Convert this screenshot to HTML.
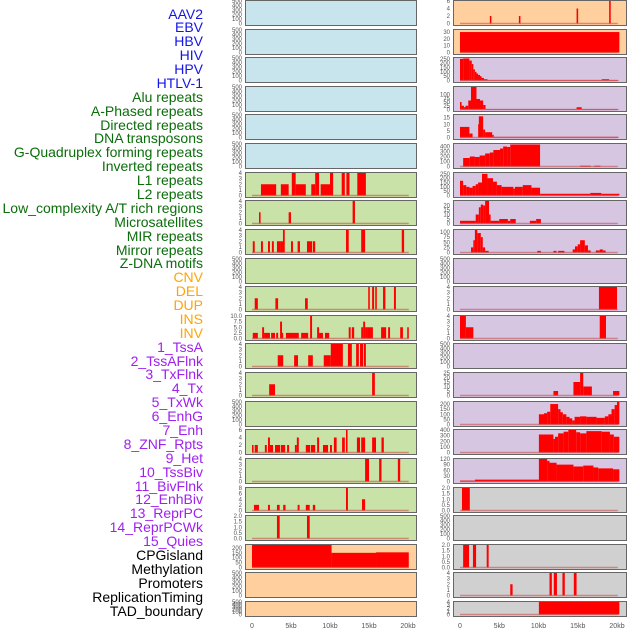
<!DOCTYPE html>
<html><head><meta charset="utf-8">
<style>
html,body{margin:0;padding:0;background:#fff;width:630px;height:630px;overflow:hidden}
#wrap{position:relative;width:630px;height:630px}
.lab{position:absolute;right:427px;font:14px "Liberation Sans",sans-serif;white-space:nowrap;line-height:15px}
svg{position:absolute;left:0;top:0}
</style></head><body>
<div id="wrap">
<div id="labels"></div>
<svg id="chart" width="630" height="630"></svg>
</div>
<script>
// ---- track labels ----
const labelNames = ["AAV2","EBV","HBV","HIV","HPV","HTLV-1","Alu repeats","A-Phased repeats","Directed repeats","DNA transposons","G-Quadruplex forming repeats","Inverted repeats","L1 repeats","L2 repeats","Low_complexity A/T rich regions","Microsatellites","MIR repeats","Mirror repeats","Z-DNA motifs","CNV","DEL","DUP","INS","INV","1_TssA","2_TssAFlnk","3_TxFlnk","4_Tx","5_TxWk","6_EnhG","7_Enh","8_ZNF_Rpts","9_Het","10_TssBiv","11_BivFlnk","12_EnhBiv","13_ReprPC","14_ReprPCWk","15_Quies","CPGisland","Methylation","Promoters","ReplicationTiming","TAD_boundary"];
const labelGroups = [6,13,5,15,5];
const groupColors = ["#1515e8","#0a6e0a","#ffa500","#a020f0","#000000"];

// ---- left column data: [startKb, endKb, value] ----
const segL6 = [[1.15,3.1,2],[3.7,4.7,2],[5.1,5.6,4],[5.6,6.9,2],[7.6,8.1,2],[8.1,8.6,4],[8.8,10,2],[10,10.4,4],[11.5,11.9,4],[12.1,12.5,4],[13.5,14.6,4]];
const segL7 = [[0.9,1.1,2],[4.7,5.0,2],[12.9,13.2,4]];
const segL8 = [[0.1,0.35,2],[1.15,1.4,2],[2.05,2.3,2],[2.55,2.8,2],[3.2,3.6,2],[3.6,3.97,2],[3.97,4.2,4],[5.0,5.25,2],[5.85,6.15,2],[7.05,7.7,2],[7.8,8.1,2],[12.05,12.4,4],[14.0,14.5,4],[19.2,19.5,4]];
const segL10 = [[0.35,0.75,2],[3.0,3.35,2],[6.8,7.15,2],[14.9,15.1,4],[15.4,15.65,4],[15.8,16.0,4],[16.8,17.1,4],[18.2,18.45,4]];
const segL11 = [[0.1,0.75,2.5],[1.3,1.55,5],[1.55,2.3,2.5],[2.45,2.95,2.5],[3.1,3.35,2.5],[3.6,3.85,7.5],[3.85,4.0,2.5],[4.35,6.0,2.5],[6.3,7.2,2.5],[7.45,7.7,10],[8.35,8.6,5],[8.6,9.1,2.5],[9.35,9.9,2.5],[12.4,12.65,5],[12.8,13.1,5],[14.0,14.25,5],[14.25,14.5,7.5],[14.5,14.75,5],[14.75,15.5,5],[16.55,17.2,5],[17.45,17.7,5],[19.0,19.35,5],[19.9,20.1,5]];
const segL12 = [[3.3,4.0,2],[5.4,5.9,2],[7.2,7.8,2],[9.2,10.1,2],[10.1,11.65,4],[12.3,12.8,4],[13.35,13.7,4],[13.85,14.25,4],[14.35,14.6,4]];
const segL13 = [[2.2,2.95,2],[15.4,15.75,4]];
const segL15 = [[0.0,0.2,2],[0.35,0.75,2],[1.65,1.9,2],[2.05,2.3,4],[2.3,2.7,2],[2.95,3.6,2],[3.7,4.25,2],[4.5,4.75,2],[5.5,5.75,2],[5.75,6.0,4],[6.9,7.45,2],[7.55,8.1,2],[8.35,8.6,4],[9.1,9.75,2],[10.0,10.25,2],[10.5,10.85,4],[11.55,11.9,4],[12.05,12.25,6],[13.45,13.85,4],[14.0,14.5,4],[15.4,15.9,4],[16.6,16.9,4]];
const segL16 = [[14.5,15.0,4],[16.3,16.6,4],[18.7,19.0,4]];
const segL17 = [[0.25,0.9,2],[2.05,2.3,2],[3.2,3.55,2],[4.0,4.3,2],[5.85,6.1,2],[6.9,7.4,2],[7.8,8.1,2],[12.05,12.3,8],[14.1,14.5,4]];
const segL18 = [[3.2,3.55,2],[7.05,7.4,2]];
const segL19 = [[0,10.2,230],[10.2,15.9,150],[15.9,20.1,155]];
const leftSegs = [[],[],[],[],[],[],segL6,segL7,segL8,[],segL10,segL11,segL12,segL13,[],segL15,segL16,segL17,segL18,segL19,[],[]];
const leftMax = [500,500,500,500,500,500,4,4,4,500,4,10,4,4,500,6,4,8,2,230,500,500];
const leftTicks = ["e","e","e","e","e","e","4","4","4","e","4","10","4","4","e","6","4","8","2","200","e","e"];

// ---- right column data ----
const segR0 = [[3.8,4.0,2],[7.5,7.7,2],[14.85,15.05,4],[19.0,19.2,6]];
const segR1 = [[0,20.3,30]];
const segR2 = [[0,0.4,250],[0.4,1.2,255],[1.2,1.5,230],[1.5,1.7,190],[1.7,1.9,130],[1.9,2.1,100],[2.1,2.3,80],[2.3,2.55,65],[2.55,2.75,50],[2.75,3.05,30],[3.05,3.5,15],[3.5,18.05,5],[18.05,19.0,15],[19.0,20.2,5]];
const segR3 = [[0,0.2,50],[0.2,0.5,25],[0.5,0.7,15],[0.7,1.05,25],[1.05,1.4,60],[1.4,2.1,150],[2.1,2.55,70],[2.55,2.95,60],[2.95,3.25,30],[3.25,14.85,3],[14.85,15.5,15],[15.5,20.2,3]];
const segR4 = [[0,1.2,8],[1.2,1.6,3],[2.3,2.4,10],[2.4,2.95,16],[2.95,3.2,6],[3.2,4.1,4],[4.1,4.3,2],[4.3,20.2,0.5]];
const segR5 = [[0.4,1.25,170],[1.25,1.9,200],[1.9,2.5,190],[2.5,3.2,220],[3.2,3.8,260],[3.8,4.25,280],[4.25,5.1,330],[5.1,5.5,360],[5.5,6.0,400],[6.0,6.4,390],[6.4,10.2,440],[15.3,16.65,15],[17.1,17.9,15]];
const segR6 = [[0,0.4,170],[0.4,0.8,120],[0.8,1.2,100],[1.2,1.6,90],[1.6,2.0,110],[2.0,2.3,130],[2.3,2.8,150],[2.8,3.5,250],[3.5,4.2,200],[4.2,4.7,160],[4.7,5.3,120],[5.3,6.8,100],[6.8,7.0,80],[7.0,8.0,100],[8.0,9.1,120],[9.1,10.2,90],[10.2,16.6,20],[16.6,18.0,30],[18.0,20.3,20]];
const segR7 = [[0,2.0,3],[2.0,2.4,10],[2.4,2.65,18],[2.65,2.95,21],[2.95,3.2,20],[3.2,3.7,25],[3.7,3.9,10],[3.9,5.0,3],[5.0,6.1,5],[6.1,6.4,3],[6.4,7.1,5],[8.9,9.7,3],[9.7,10.3,5]];
const segR8 = [[1.4,1.7,25],[1.7,1.9,60],[1.9,2.2,110],[2.2,2.65,95],[2.65,2.9,75],[2.9,3.2,25],[3.2,3.65,8],[9.85,10.3,8],[11.9,12.3,8],[12.5,13.3,8],[14.35,14.65,15],[14.65,15.0,30],[15.0,15.3,40],[15.3,15.9,60],[15.9,16.3,35],[16.3,16.65,10],[17.3,17.8,10],[17.8,18.2,15],[18.2,18.55,10]];
const segR10 = [[17.7,20.0,4]];
const segR11 = [[0,0.75,4],[0.75,1.7,2],[17.8,18.6,4]];
const segR13 = [[11.9,12.5,5],[14.45,15.3,15],[15.3,15.7,25],[15.7,16.8,10],[19.5,20.3,5]];
const segR14 = [[10.05,10.7,100],[10.7,11.1,110],[11.1,11.5,125],[11.5,12.5,200],[12.5,12.8,150],[12.8,13.1,120],[13.1,13.55,100],[13.55,13.95,75],[13.95,14.3,60],[14.3,14.6,40],[14.6,15.3,75],[15.3,16.1,80],[16.1,17.4,75],[17.4,18.45,65],[18.45,18.9,80],[18.9,19.3,100],[19.3,19.7,150],[19.7,20.0,190],[20.0,20.3,220]];
const segR15 = [[10.05,11.9,320],[11.9,12.1,240],[12.1,12.5,280],[12.5,13.2,340],[13.2,13.8,370],[13.8,14.8,400],[14.8,15.3,360],[15.3,16.1,340],[16.1,18.05,380],[18.05,19.1,370],[19.1,19.6,320],[19.6,20.3,280]];
const segR16 = [[0,1.9,5],[1.9,10.05,10],[10.05,11.1,120],[11.1,11.4,110],[11.4,12.3,100],[12.3,14.45,90],[14.45,15.7,80],[15.7,17.0,85],[17.0,17.6,75],[17.6,19.5,70],[19.5,20.3,65]];
const segR17 = [[0.25,1.25,2]];
const segR19 = [[0.4,1.15,2],[1.65,2.05,2],[3.4,3.65,2]];
const segR20 = [[6.4,6.7,2],[11.4,11.7,4],[11.95,12.35,4],[13.05,13.35,4],[14.5,14.85,4]];
const segR21 = [[10.05,20.3,4]];
const rightSegs = [segR0,segR1,segR2,segR3,segR4,segR5,segR6,segR7,segR8,[],segR10,segR11,[],segR13,segR14,segR15,segR16,segR17,[],segR19,segR20,segR21];
const rightMax = [6,33,260,150,17,450,260,25,110,500,4,4,500,25,220,400,120,2,500,2,4,4];
const rightTicks = ["6","30","250","100","15","400","250","20","100","e","4","4","e","25","200","400","120","2","e","2","4","4"];

const xTickVals = [0,5,10,15,20];
const xTickLabels = ["0","5kb","10kb","15kb","20kb"];

const tickSets = {
  "e":[0,100,200,300,400,500],"4":[0,1,2,3,4],"10":[0,2.5,5,7.5,10],"6":[0,2,4,6],"8":[0,2,4,6,8],
  "2":[0,0.5,1,1.5,2],"200":[0,50,100,150,200],"30":[0,10,20,30],"250":[0,50,100,150,200,250],
  "100":[0,25,50,75,100],"15":[0,5,10,15],"400":[0,100,200,300,400],"20":[0,5,10,15,20],
  "25":[0,5,10,15,20,25],"120":[0,30,60,90,120]
};
const tickFmt = {"10":v=>v.toFixed(1),"2":v=>v.toFixed(1)};
const leftBg = ["#c8e4ec","#c8e4ec","#c8e4ec","#c8e4ec","#c8e4ec","#c8e4ec","#c8e2a8","#c8e2a8","#c8e2a8","#c8e2a8","#c8e2a8","#c8e2a8","#c8e2a8","#c8e2a8","#c8e2a8","#c8e2a8","#c8e2a8","#c8e2a8","#c8e2a8","#ffd09e","#ffd09e","#ffd09e"];
const rightBg = ["#ffd09e","#ffd09e","#d6c6e2","#d6c6e2","#d6c6e2","#d6c6e2","#d6c6e2","#d6c6e2","#d6c6e2","#d6c6e2","#d6c6e2","#d6c6e2","#d6c6e2","#d6c6e2","#d6c6e2","#d6c6e2","#d6c6e2","#d0d0d0","#d0d0d0","#d0d0d0","#d0d0d0","#d0d0d0"];

// labels
const labDiv = document.getElementById('labels');
let gi = 0, cnt = 0;
labelNames.forEach((n,i)=>{
  while(cnt >= labelGroups[gi]) { cnt -= labelGroups[gi]; gi++; }
  const d = document.createElement('div');
  d.className = 'lab';
  d.textContent = n;
  d.style.top = (6.5 + i*(597/43)) + 'px';
  d.style.color = groupColors[gi];
  
  
  labDiv.appendChild(d);
  cnt++;
});

const svg = document.getElementById('chart');
const NS = 'http://www.w3.org/2000/svg';
function mk(tag, attrs){ const e=document.createElementNS(NS,tag); for(const k in attrs) e.setAttribute(k,attrs[k]); svg.appendChild(e); return e; }

const rowTop = i => Math.round(i*28.62);
const rowH = i => i===21 ? 15 : 25;

function panel(i, side, segs, ymax, tk, bg){
  const px = side==='L' ? 245 : 453, pw = side==='L' ? 171 : 173;
  const x0 = side==='L' ? 252 : 460, xs = side==='L' ? 7.8 : 7.85;
  const top = rowTop(i), h = rowH(i);
  const base = top + h - 1.5, ytop = top + 1;
  const xS = v => x0 + v*xs;
  const yS = v => base - v/ymax*(base-ytop);
  const r = mk('rect',{x:px+0.5,y:top+0.5,width:pw,height:h,fill:bg,stroke:'#666','stroke-width':1});
  
  
  segs.forEach(s=>{
    const b = mk('rect',{x:xS(s[0]),y:yS(s[2]),width:Math.max(0.8,xS(s[1])-xS(s[0])),height:Math.max(0,base-yS(s[2])),fill:'#ff0000'});
    
    
  });
  if (segs.length) {
    const ln = mk('line',{x1:xS(0),x2:xS(20.1),y1:base,y2:base,stroke:'rgba(200,70,70,0.55)','stroke-width':1.5});
    
    
  }
  const ticks = tickSets[tk], fmt = tickFmt[tk] || (v=>String(v));
  ticks.forEach(v=>{
    if (v > ymax*1.02) return;
    const t = mk('text',{x:px-3,y:yS(v)+2,'text-anchor':'end','font-size':6,fill:'#555','font-family':'Liberation Sans, sans-serif'});
    t.textContent = fmt(v);
    
    
  });
}
for(let i=0;i<22;i++){
  panel(i,'L',leftSegs[i],leftMax[i],leftTicks[i],leftBg[i]);
  panel(i,'R',rightSegs[i],rightMax[i],rightTicks[i],rightBg[i]);
}
['L','R'].forEach(side=>{
  const x0 = side==='L' ? 252 : 460, xs = side==='L' ? 7.8 : 7.85;
  xTickVals.forEach((v,j)=>{
    const t = mk('text',{x:x0+v*xs,y:628,'text-anchor':'middle','font-size':7,fill:'#555','font-family':'Liberation Sans, sans-serif'});
    t.textContent = xTickLabels[j];
    
    
  });
});
</script>
</body></html>
